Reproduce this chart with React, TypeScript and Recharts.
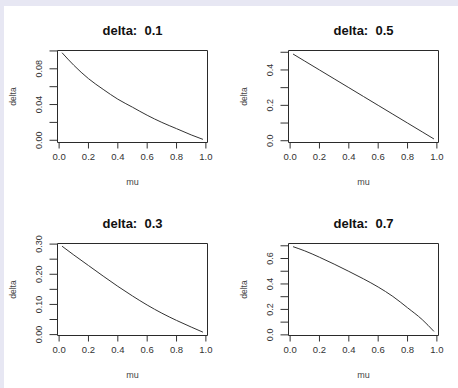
import React from 'react';
import { LineChart, Line, XAxis, YAxis, ReferenceArea } from 'recharts';

// values
const mu = [0.02, 0.1, 0.2, 0.3, 0.4, 0.5, 0.6, 0.7, 0.8, 0.9, 0.98];

const delta01 = [0.098, 0.084, 0.069, 0.057, 0.046, 0.037, 0.028, 0.02, 0.013, 0.006, 0.001];
const delta05 = [0.49, 0.45, 0.4, 0.35, 0.3, 0.25, 0.2, 0.15, 0.1, 0.05, 0.01];
const delta03 = [0.293, 0.264, 0.229, 0.194, 0.16, 0.128, 0.098, 0.071, 0.047, 0.025, 0.008];
const delta07 = [0.693, 0.66, 0.61, 0.556, 0.499, 0.44, 0.376, 0.302, 0.213, 0.12, 0.027];

const xTicks = [0, 0.2, 0.4, 0.6, 0.8, 1];
const xTickLabels = ['0.0', '0.2', '0.4', '0.6', '0.8', '1.0'];

const yTicks01 = [0, 0.02, 0.04, 0.06, 0.08, 0.1];
const yLabels01 = ['0.00', '', '0.04', '', '0.08', ''];
const yTicks05 = [0, 0.1, 0.2, 0.3, 0.4, 0.5];
const yLabels05 = ['0.0', '', '0.2', '', '0.4', ''];
const yTicks03 = [0, 0.05, 0.1, 0.15, 0.2, 0.25, 0.3];
const yLabels03 = ['0.00', '', '0.10', '', '0.20', '', '0.30'];
const yTicks07 = [0, 0.1, 0.2, 0.3, 0.4, 0.5, 0.6, 0.7];
const yLabels07 = ['0.0', '', '0.2', '', '0.4', '', '0.6', ''];

const FONT = '"Liberation Sans", Arial, sans-serif';
const X_DOMAIN = [-0.011, 1.011];
const CELL_W = 229;
const CELL_H = 194;

const panels = [
  { title: 'delta:  0.1', values: delta01, yDomain: [-0.0025, 0.1005], yTicks: yTicks01, yLabels: yLabels01, left: 0, top: 0 },
  { title: 'delta:  0.5', values: delta05, yDomain: [-0.01, 0.51], yTicks: yTicks05, yLabels: yLabels05, left: 231, top: 0 },
  { title: 'delta:  0.3', values: delta03, yDomain: [-0.003, 0.302], yTicks: yTicks03, yLabels: yLabels03, left: 0, top: 193 },
  { title: 'delta:  0.7', values: delta07, yDomain: [-0.005, 0.718], yTicks: yTicks07, yLabels: yLabels07, left: 231, top: 193 },
];

const YTick = (props: any) => {
  const { x, y, payload, ticks, labels } = props;
  const i = ticks.indexOf(payload.value);
  const label = i >= 0 ? labels[i] : '';
  if (!label) return <g />;
  return (
    <text
      x={x}
      y={y}
      transform={`rotate(-90 ${x} ${y})`}
      textAnchor="middle"
      fontSize={9}
      fill="#333"
      fontFamily={FONT}
    >
      {label}
    </text>
  );
};

const Panel = ({ p }: any) => {
  const data = mu.map((m, i) => ({ mu: m, delta: p.values[i] }));
  return (
    <div style={{ position: 'absolute', left: p.left, top: p.top, width: CELL_W, height: CELL_H }}>
      <div
        style={{
          position: 'absolute',
          left: 57.5,
          top: 23.5,
          width: 150,
          textAlign: 'center',
          fontFamily: FONT,
          fontWeight: 'bold',
          fontSize: 13,
          lineHeight: '13px',
          whiteSpace: 'pre',
          color: '#111',
        }}
      >
        {p.title}
      </div>
      <LineChart width={CELL_W} height={CELL_H} data={data} margin={{ top: 50.5, right: 21.5, bottom: 9.5, left: 0 }}>
        <XAxis
          dataKey="mu"
          type="number"
          domain={X_DOMAIN}
          ticks={xTicks}
          interval={0}
          tickFormatter={(v: number, i: number) => xTickLabels[i]}
          height={42}
          tickSize={6}
          tickMargin={5}
          axisLine={false}
          tickLine={{ stroke: '#333' }}
          tick={{ fontSize: 9.5, fill: '#333', fontFamily: FONT }}
          label={{ value: 'mu', position: 'insideBottom', offset: 0, fontSize: 9, fill: '#444', fontFamily: FONT }}
        />
        <YAxis
          type="number"
          domain={p.yDomain}
          ticks={p.yTicks}
          interval={0}
          width={57.5}
          tickSize={8}
          tickMargin={7}
          axisLine={false}
          tickLine={{ stroke: '#333' }}
          tick={(props: any) => <YTick {...props} ticks={p.yTicks} labels={p.yLabels} />}
          label={{
            value: 'delta',
            angle: -90,
            position: 'insideLeft',
            offset: 12.8,
            fontSize: 8.5,
            fill: '#444',
            fontFamily: FONT,
            style: { textAnchor: 'middle' },
          }}
        />
        <ReferenceArea
          x1={X_DOMAIN[0]}
          x2={X_DOMAIN[1]}
          y1={p.yDomain[0]}
          y2={p.yDomain[1]}
          fill="none"
          stroke="#2a2a2a"
          strokeWidth={1}
          ifOverflow="visible"
        />
        <Line type="monotone" dataKey="delta" stroke="#333" strokeWidth={1} dot={false} isAnimationActive={false} />
      </LineChart>
    </div>
  );
};

export default function App() {
  return (
    <div style={{ position: 'absolute', left: 0, top: 0, width: 458, height: 388, background: '#fff', overflow: 'hidden' }}>
      <div style={{ position: 'absolute', left: 0, top: 0, width: 458, height: 6, background: '#e7e7f3' }} />
      <div style={{ position: 'absolute', left: 0, top: 0, width: 4, height: 388, background: '#e7e7f3' }} />
      {panels.map((p) => (
        <Panel key={p.title} p={p} />
      ))}
    </div>
  );
}
